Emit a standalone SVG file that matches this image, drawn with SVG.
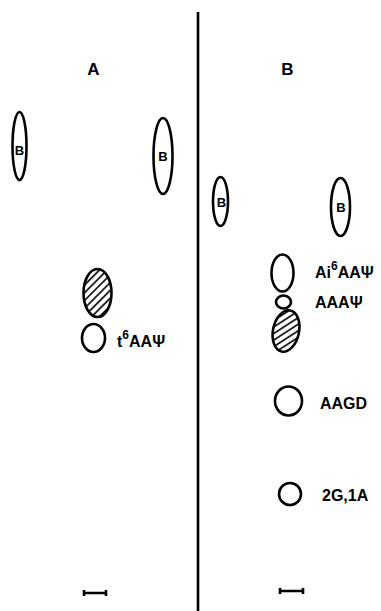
<svg xmlns="http://www.w3.org/2000/svg" width="381" height="611" viewBox="0 0 381 611">
<style>
.spot{fill:none;stroke:#000;stroke-width:2.6}
.hatch{fill:url(#h);stroke:#000;stroke-width:2.6}
.lbl{font-family:"Liberation Sans",Arial,sans-serif;font-weight:bold;font-size:16px;fill:#000}
.pan{font-family:"Liberation Sans",Arial,sans-serif;font-weight:bold;font-size:17px;fill:#000;text-anchor:middle}
.bl{font-family:"Liberation Sans",Arial,sans-serif;font-weight:bold;font-size:13px;fill:#000;text-anchor:middle}
.bar{stroke:#000;stroke-width:2.6;fill:none}
</style>
<defs>
<pattern id="h" width="5.5" height="5.5" patternUnits="userSpaceOnUse" patternTransform="rotate(-45)">
<rect width="5.5" height="5.5" fill="#fff"/>
<line x1="0" y1="2.75" x2="5.5" y2="2.75" stroke="#000" stroke-width="1.6"/>
</pattern>
</defs>
<rect width="381" height="611" fill="#fff"/>
<line x1="198" y1="12" x2="198" y2="611" stroke="#000" stroke-width="2.6"/>
<text class="pan" x="93.5" y="75">A</text>
<text class="pan" x="287.5" y="75">B</text>
<g id="a-b1"><ellipse class="spot" cx="19.5" cy="146" rx="7" ry="34"/><text class="bl" x="19.5" y="155">B</text></g>
<g id="a-b2"><ellipse class="spot" cx="163" cy="156" rx="9.5" ry="38"/><text class="bl" x="163" y="161">B</text></g>
<g id="a-hatched"><ellipse class="hatch" cx="97.5" cy="293" rx="14" ry="24"/></g>
<g id="a-t6"><ellipse class="spot" cx="93.5" cy="338" rx="11.5" ry="14"/><text class="lbl" x="117" y="347">t<tspan dy="-8" font-size="12">6</tspan><tspan dy="8">AAΨ</tspan></text></g>
<g id="b-b1"><ellipse class="spot" cx="220.5" cy="201.5" rx="7.5" ry="24.5"/><text class="bl" x="221.5" y="207">B</text></g>
<g id="b-b2"><ellipse class="spot" cx="340.5" cy="207" rx="9.5" ry="29"/><text class="bl" x="341" y="212">B</text></g>
<g id="b-ai6"><ellipse class="spot" cx="282.5" cy="273" rx="11" ry="18.5"/><text class="lbl" x="315" y="278">Ai<tspan dy="-8" font-size="12">6</tspan><tspan dy="8">AAΨ</tspan></text></g>
<g id="b-aaa"><ellipse class="spot" cx="283.5" cy="302" rx="7.5" ry="6.5"/><text class="lbl" x="315" y="308">AAAΨ</text></g>
<g id="b-hatched"><ellipse class="hatch" cx="286" cy="331" rx="13" ry="21" transform="rotate(12 286 331)"/></g>
<g id="b-aagd"><ellipse class="spot" cx="288.5" cy="401" rx="13.5" ry="14.5"/><text class="lbl" x="320" y="409">AAGD</text></g>
<g id="b-2g1a"><ellipse class="spot" cx="290" cy="494" rx="11" ry="11"/><text class="lbl" x="322" y="501">2G,1A</text></g>
<path class="bar" d="M84 593H106M84 590V596M106 590V596"/>
<path class="bar" d="M280 591H303M280 588V594M303 588V594"/>
</svg>
